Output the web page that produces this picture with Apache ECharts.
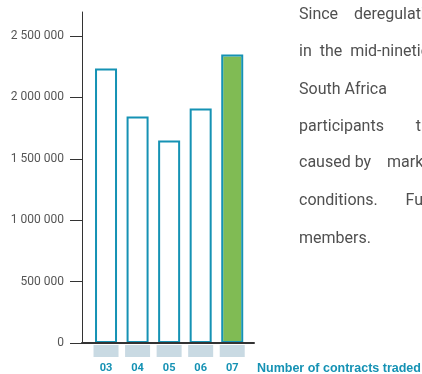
<!DOCTYPE html>
<html>
<head>
<meta charset="utf-8">
<script src="https://cdn.jsdelivr.net/npm/echarts@6/dist/echarts.min.js"></script>
<style>
  html, body { margin: 0; padding: 0; background: #fff; }
  #chart { width: 422px; height: 374px; }
</style>
</head>
<body>
<div id="chart"></div>
<script>
// Years (two-digit) and contracts traded per year
const years = ['03', '04', '05', '06', '07'];
const contracts = [2235000, 1845000, 1650000, 1910000, 2350000];
const highlightYear = '07';

// Value-axis scale
const yMin = 0;
const yMax = 2500000;
const yStep = 500000;

// Side paragraph lines (run off the right edge of the page)
const paragraph = [
  'Since    deregulation',
  'in  the  mid-nineties',
  'South Africa',
  'participants        the',
  'caused by    market',
  'conditions.       Further',
  'members.'
];
const axisTitle = 'Number of contracts traded';

const TEAL = '#1592b4';
const GREEN = '#80bb54';
const FONT = 'Roboto, "Liberation Sans", sans-serif';
const BAR_WIDTH = 22;

const highlight = years
  .map((y, i) => [y, contracts[i]])
  .filter(d => d[0] === highlightYear);

const spaced = v => String(v).replace(/\B(?=(\d{3})+(?!\d))/g, ' ');

// Green fill sits inside the outlined bar, leaving a thin white gap
// under the outline on the sides and top.
function renderFill(params, api) {
  const topPt = api.coord([api.value(0), api.value(1)]);
  const basePt = api.coord([api.value(0), 0]);
  const inset = 2;
  return {
    type: 'rect',
    shape: {
      x: topPt[0] - BAR_WIDTH / 2 + inset,
      y: topPt[1] + inset,
      width: BAR_WIDTH - inset * 2,
      height: basePt[1] - topPt[1] - inset
    },
    style: { fill: GREEN }
  };
}

const chart = echarts.init(document.getElementById('chart'), null, { renderer: 'canvas' });

const lineTops = [15, 52, 90, 127, 163, 201, 239];

chart.setOption({
  animation: false,
  backgroundColor: '#fff',
  title: {
    text: axisTitle,
    left: 257,
    top: 362,
    padding: 0,
    textStyle: { fontFamily: '"Liberation Sans", Arial, sans-serif', fontSize: 12.5, fontWeight: 'bold', color: TEAL }
  },
  grid: [
    { left: 90.25, right: 174, top: 36, bottom: 31 },
    { left: 82, right: 168, top: 12, bottom: 31 }
  ],
  xAxis: [
    {
      type: 'category',
      gridIndex: 0,
      data: years,
      axisLine: { show: false },
      axisTick: { show: false },
      axisLabel: {
        interval: 0,
        margin: 2,
        formatter: v => '{box| }\n{t|' + v + '}',
        rich: {
          box: { backgroundColor: '#c9dae3', width: 25, height: 12, lineHeight: 12, align: 'center' },
          t: { color: TEAL, fontWeight: 'bold', fontSize: 11, lineHeight: 22, fontFamily: FONT, align: 'center' }
        }
      }
    },
    {
      type: 'value',
      gridIndex: 1,
      min: 0,
      max: 1,
      z: 10,
      axisLine: { show: true, lineStyle: { color: '#333', width: 2 } },
      axisTick: { show: false },
      axisLabel: { show: false },
      splitLine: { show: false }
    }
  ],
  yAxis: [
    {
      type: 'value',
      gridIndex: 0,
      min: yMin,
      max: yMax,
      interval: yStep,
      offset: 8.25,
      axisLine: { show: false },
      axisTick: { show: true, length: 12, lineStyle: { color: '#333', width: 1 } },
      axisLabel: {
        margin: 18,
        color: '#555',
        fontSize: 12,
        fontFamily: FONT,
        formatter: spaced
      },
      splitLine: { show: false }
    },
    {
      type: 'value',
      gridIndex: 1,
      min: 0,
      max: 1,
      z: 10,
      axisLine: { show: true, lineStyle: { color: '#333', width: 1 } },
      axisTick: { show: false },
      axisLabel: { show: false },
      splitLine: { show: false }
    }
  ],
  series: [
    {
      name: 'highlight',
      type: 'custom',
      xAxisIndex: 0,
      yAxisIndex: 0,
      data: highlight,
      encode: { x: 0, y: 1 },
      z: 2,
      renderItem: renderFill
    },
    {
      name: 'contracts',
      type: 'bar',
      xAxisIndex: 0,
      yAxisIndex: 0,
      data: contracts,
      barWidth: BAR_WIDTH,
      z: 3,
      itemStyle: { color: 'rgba(255,255,255,0)', borderColor: TEAL, borderWidth: 2 }
    }
  ],
  graphic: paragraph.map((line, i) => ({
    type: 'text',
    left: 299,
    top: lineTops[i] - 8,
    silent: true,
    style: {
      text: line,
      fill: '#505050',
      font: '400 16px ' + FONT
    }
  }))
});
</script>
</body>
</html>
